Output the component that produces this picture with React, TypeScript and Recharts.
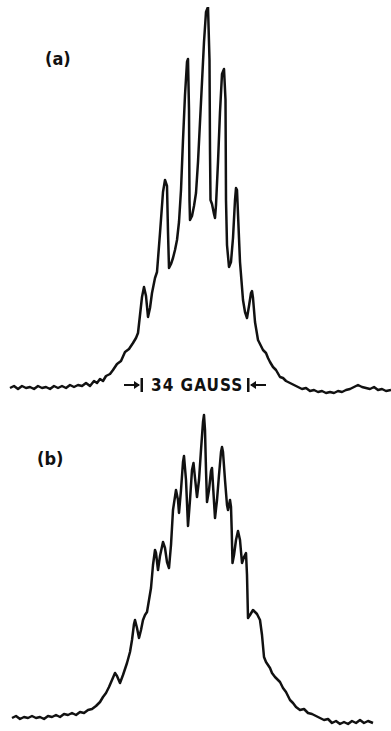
import { LineChart, Line, XAxis, YAxis } from "recharts";

// field position along the recorder sweep (same scale for both traces)
const fieldA = [
  10, 14, 18, 22, 26, 30, 34, 38, 42, 46,
  50, 54, 58, 62, 66, 70, 74, 78, 82, 86,
  90, 94, 97, 100, 103, 106, 110, 113, 117, 121,
  125, 129, 133, 136, 138, 140, 142, 144, 146, 148,
  150, 152, 155, 157, 160, 163, 165, 167, 168, 169,
  171, 173, 175, 177, 179, 181, 183, 185, 187, 188,
  189, 189.5, 190, 192, 194, 196, 198, 200, 202, 204,
  206, 208, 209.5, 210, 210.5, 212, 214, 215, 216, 218,
  220, 222, 224, 225.5, 226, 227, 229, 231, 233, 235,
  236, 237, 238, 240, 243, 245, 247, 249, 251, 252,
  253, 255, 258, 260, 263, 266, 268, 270, 273, 276,
  280, 283, 286, 290, 294, 298, 302, 306, 310, 314,
  318, 322, 326, 330, 334, 338, 342, 346, 350, 354,
  358, 362, 366, 370, 374, 378, 382, 386, 391,
];

const intensityA = [
  0, 2, -1, 2, 0, 1, -1, 2, 0, 1,
  -1, 2, 0, 2, 0, 3, 1, 3, 2, 5,
  2, 7, 5, 9, 7, 12, 14, 18, 24, 27,
  36, 39, 45, 50, 55, 73, 91, 101, 92, 71,
  80, 95, 110, 116, 155, 196, 208, 202, 156, 120,
  124, 130, 138, 148, 166, 198, 248, 293, 326, 329,
  278, 188, 168, 172, 182, 195, 226, 266, 306, 346,
  376, 381, 328, 238, 188, 184, 174, 170, 183, 226,
  276, 314, 319, 288, 188, 143, 121, 126, 150, 188,
  200, 198, 174, 126, 88, 76, 70, 82, 95, 97,
  90, 66, 48, 44, 38, 35, 30, 26, 21, 18,
  11, 10, 7, 5, 3, 1, -1, 0, -3, -2,
  -4, -3, -5, -4, -5, -3, -4, -2, -1, 1,
  3, 1, 0, -1, 1, -2, -1, -3, -2,
];

const fieldB = [
  12, 16, 20, 24, 28, 32, 36, 40, 44, 48,
  52, 56, 60, 64, 68, 72, 76, 80, 84, 88,
  92, 96, 100, 103, 106, 109, 112, 115, 117, 120,
  123, 127, 130, 132, 134, 135, 137, 139, 141, 143,
  145, 147, 149, 151, 153, 155, 156, 158, 160, 163,
  165, 167, 169, 171, 173, 176, 178, 179, 181, 183,
  184, 186, 188, 190, 192, 193.5, 195, 197, 199, 201,
  203, 204, 205, 206, 207, 209, 211, 212, 213, 215,
  217, 219, 221, 222, 223, 225, 227, 228, 230, 231,
  231.7, 232.5, 234, 236, 238, 240, 242, 244, 246, 247,
  248, 250, 253, 255, 257, 260, 262, 264, 266, 268,
  270, 272, 275, 278, 280, 283, 286, 290, 293, 296,
  300, 304, 308, 312, 316, 320, 324, 328, 332, 336,
  340, 344, 348, 352, 356, 360, 364, 368, 373,
];

const intensityB = [
  0, 2, -1, 1, 0, 2, 0, 1, -1, 2,
  1, 3, 1, 4, 3, 5, 3, 6, 5, 8,
  9, 12, 16, 21, 25, 31, 38, 45, 42, 35,
  43, 55, 66, 78, 94, 98, 90, 80, 88, 98,
  103, 106, 118, 130, 153, 168, 165, 148, 162, 176,
  170, 156, 150, 173, 208, 228, 218, 205, 228, 256,
  262, 238, 192, 218, 248, 255, 240, 221, 238, 268,
  296, 303, 288, 248, 216, 228, 247, 250, 233, 200,
  218, 243, 266, 271, 266, 238, 213, 208, 218, 211,
  188, 155, 163, 178, 187, 178, 155, 161, 165, 143,
  100, 103, 108, 106, 104, 98, 83, 61, 56, 53,
  50, 45, 41, 38, 36, 30, 26, 18, 15, 11,
  8, 9, 5, 4, 2, 0, -2, -1, -5, -3,
  -6, -4, -6, -3, -5, -2, -5, -3, -5,
];

const dataA = fieldA.map((field, i) => ({ field, value: intensityA[i] }));
const dataB = fieldB.map((field, i) => ({ field, value: intensityB[i] }));

const INK = "#111";
const labelFont = "'DejaVu Sans Condensed', 'DejaVu Sans', sans-serif";

function Trace({ data, height, top, margin, domain }: {
  data: { field: number; value: number }[];
  height: number;
  top: number;
  margin: { top: number; right: number; bottom: number; left: number };
  domain: [number, number];
}) {
  return (
    <div style={{ position: "absolute", left: 0, top }}>
      <LineChart width={391} height={height} data={data} margin={margin}>
        <XAxis dataKey="field" type="number" domain={[0, 391]} hide allowDataOverflow />
        <YAxis type="number" domain={domain} hide allowDataOverflow />
        <Line
          type="linear"
          dataKey="value"
          stroke={INK}
          strokeWidth={2.5}
          strokeLinejoin="round"
          dot={false}
          isAnimationActive={false}
        />
      </LineChart>
    </div>
  );
}

// arrow pointing at a bar: "→|" or "|←"
function Marker({ left, flip }: { left: number; flip?: boolean }) {
  return (
    <svg
      width={20}
      height={16}
      style={{ position: "absolute", left, top: 377, transform: flip ? "scaleX(-1)" : undefined }}
    >
      <line x1={0} y1={8} x2={15} y2={8} stroke={INK} strokeWidth={2} />
      <polygon points="16,8 10,4 10,12" fill={INK} />
      <rect x={16.5} y={1} width={2.5} height={14} fill={INK} />
    </svg>
  );
}

export default function App() {
  return (
    <div
      style={{
        position: "absolute",
        left: 0,
        top: 0,
        width: 391,
        height: 731,
        background: "#fff",
        overflow: "hidden",
      }}
    >
      <Trace data={dataA} height={400} top={0} margin={{ top: 7, right: 0, bottom: 0, left: 0 }} domain={[-12, 381]} />
      <Trace data={dataB} height={351} top={380} margin={{ top: 0, right: 0, bottom: 1, left: 0 }} domain={[-12, 338]} />

      <div style={{ position: "absolute", left: 45, top: 49, fontFamily: labelFont, fontWeight: 700, fontSize: 18, color: INK, lineHeight: "20px" }}>
        (a)
      </div>
      <div style={{ position: "absolute", left: 37, top: 449, fontFamily: labelFont, fontWeight: 700, fontSize: 18, color: INK, lineHeight: "20px" }}>
        (b)
      </div>

      <Marker left={124} />
      <div
        style={{
          position: "absolute",
          left: 151,
          top: 376,
          fontFamily: labelFont,
          fontWeight: 700,
          fontSize: 17,
          lineHeight: "18px",
          color: INK,
          whiteSpace: "nowrap",
          letterSpacing: 1,
        }}
      >
        34 GAUSS
      </div>
      <Marker left={246} flip />
    </div>
  );
}
